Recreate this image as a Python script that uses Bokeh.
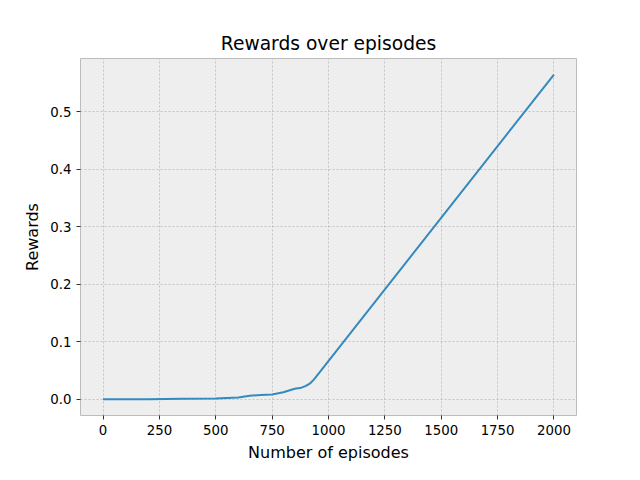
from bokeh.plotting import figure
from bokeh.embed import file_html
from bokeh.resources import INLINE
from bokeh.models import Range1d, FixedTicker, NumeralTickFormatter

# episodes and rewards
episodes = [0, 100, 200, 350, 500, 550, 600, 650, 700, 750, 800, 850, 880, 900, 920, 935, 2000]
rewards = [0.0, 0.0, 0.0, 0.0005, 0.001, 0.002, 0.003, 0.006, 0.007, 0.008, 0.012, 0.018, 0.020, 0.023, 0.028, 0.034, 0.565]

x_ticks = [0, 250, 500, 750, 1000, 1250, 1500, 1750, 2000]
y_ticks = [0.0, 0.1, 0.2, 0.3, 0.4, 0.5]

font = "DejaVu Sans"

p = figure(width=624, height=464, output_backend="svg", toolbar_location=None, tools=[],
           title="Rewards over episodes",
           x_axis_label="Number of episodes", y_axis_label="Rewards",
           x_range=Range1d(-100, 2100), y_range=Range1d(-0.0285, 0.593),
           min_border_left=80, min_border_right=48, min_border_top=58, min_border_bottom=37)

p.background_fill_color = "#eeeeee"
p.border_fill_color = "white"
p.outline_line_color = "#bcbcbc"

p.title.text_font = font
p.title.text_font_size = "14pt"
p.title.text_font_style = "normal"
p.title.text_color = "black"
p.title.align = "center"

for ax in (p.xaxis, p.yaxis):
    ax.axis_label_text_font = font
    ax.axis_label_text_font_size = "12pt"
    ax.axis_label_text_font_style = "normal"
    ax.axis_label_text_color = "black"
    ax.major_label_text_font = font
    ax.major_label_text_font_size = "10pt"
    ax.major_label_text_color = "black"
    ax.axis_line_color = None
    ax.minor_tick_line_color = None
    ax.major_tick_line_color = "#333333"
    ax.major_tick_out = 4
    ax.major_tick_in = 0

p.xaxis.ticker = FixedTicker(ticks=x_ticks)
p.yaxis.ticker = FixedTicker(ticks=y_ticks)
p.yaxis.formatter = NumeralTickFormatter(format="0.0")

for g in (p.xgrid, p.ygrid):
    g.grid_line_color = "#b2b2b2"
    g.grid_line_dash = "2 2"
    g.grid_line_width = 0.7

p.line(episodes, rewards, line_color="#348ABD", line_width=2)

open("out.html", "w").write(file_html(p, INLINE))
